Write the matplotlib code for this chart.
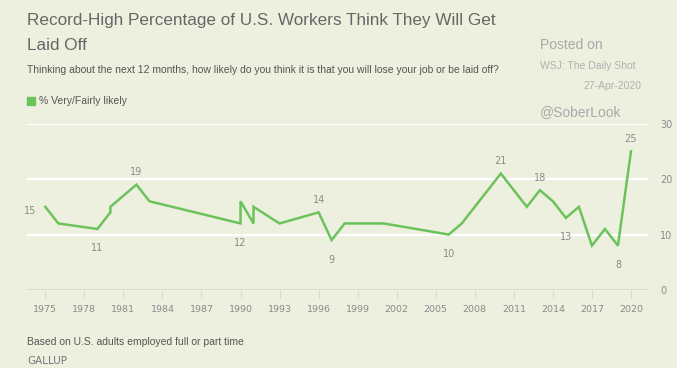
import matplotlib
matplotlib.use("Agg")
import matplotlib.pyplot as plt
from matplotlib.patches import Rectangle

# Gallup series: % very/fairly likely to lose job (repeat years = two surveys)
years = [1975, 1976, 1979, 1980, 1980, 1982, 1983, 1990, 1990, 1991, 1991,
         1993, 1996, 1997, 1998, 2001, 2006, 2007, 2008, 2010, 2012, 2013,
         2014, 2015, 2016, 2017, 2018, 2019, 2020]
likely = [15, 12, 11, 14, 15, 19, 16, 12, 16, 12, 15,
          12, 14, 9, 12, 12, 10, 12, 15, 21, 15, 18,
          16, 13, 15, 8, 11, 8, 25]

# labelled points: (year, value, dx, dy in points)
labels = [(1975, 15, -11, -3), (1979, 11, 0, -14), (1982, 19, 0, 9),
          (1990, 12, 0, -14), (1996, 14, 0, 9), (1997, 9, 0, -14),
          (2006, 10, 0, -14), (2010, 21, 0, 9), (2013, 18, 0, 9),
          (2015, 13, 0, -14), (2019, 8, 0, -14), (2020, 25, 0, 9)]

xticks = list(range(1975, 2021, 3))
yticks = [0, 10, 20, 30]

bg = "#eef0df"
green = "#6cc35c"
grey = "#8a8a8a"

fig = plt.figure(figsize=(6.77, 3.68), dpi=100, facecolor=bg)
ax = fig.add_axes([0.040, 0.212, 0.917, 0.452], facecolor=bg)

for y in yticks[1:]:
    ax.axhline(y, color="white", lw=1.6, zorder=1)
ax.axhline(0, color="#d8dacb", lw=2.2, zorder=1)

ax.plot(years, likely, color=green, lw=1.8, zorder=3, solid_joinstyle="miter")

for yr, v, dx, dy in labels:
    ax.annotate(str(v), (yr, v), xytext=(dx, dy), textcoords="offset points",
                ha="center", va="center", fontsize=7, color=grey)

ax.set_xlim(1973.6, 2021.3)
ax.set_ylim(0, 30)
ax.set_xticks(xticks)
ax.set_xticklabels([str(t) for t in xticks], fontsize=6.8, color=grey)
ax.tick_params(axis="x", length=6, width=0.8, color="#d8dacb", pad=5, direction="out")
ax.yaxis.tick_right()
ax.set_yticks(yticks)
ax.set_yticklabels([str(t) for t in yticks], fontsize=7, color=grey)
ax.tick_params(axis="y", length=0, pad=9)
for s in ax.spines.values():
    s.set_visible(False)

narrow = ["Liberation Sans Narrow", "Liberation Sans", "DejaVu Sans"]
fig.text(27 / 677, 1 - 20 / 368,
         "Record-High Percentage of U.S. Workers Think They Will Get",
         fontsize=12.3, color="#666666", family=narrow, va="center")
fig.text(27 / 677, 1 - 45 / 368, "Laid Off", fontsize=12.3, color="#666666",
         family=narrow, va="center")
fig.text(27 / 677, 1 - 70 / 368,
         "Thinking about the next 12 months, how likely do you think it is "
         "that you will lose your job or be laid off?",
         fontsize=7.5, color="#555555", family=narrow, va="center")

fig.patches.append(Rectangle((27 / 677, 1 - 105 / 368), 8 / 677, 8 / 368,
                             transform=fig.transFigure, color=green))
fig.text(39 / 677, 1 - 101 / 368, "% Very/Fairly likely", fontsize=7.5,
         color="#555555", family=narrow, va="center")

fig.text(540 / 677, 1 - 45 / 368, "Posted on", fontsize=10, color="#a8a8a8",
         family=narrow, va="center")
fig.text(540 / 677, 1 - 66 / 368, "WSJ: The Daily Shot", fontsize=7.5,
         color="#b0b0b0", family=narrow, va="center")
fig.text(641 / 677, 1 - 86 / 368, "27-Apr-2020", fontsize=7.5,
         color="#b0b0b0", family=narrow, va="center", ha="right")
fig.text(540 / 677, 1 - 112 / 368, "@SoberLook", fontsize=10,
         color="#a8a8a8", family=narrow, va="center")

fig.text(27 / 677, 1 - 342 / 368, "Based on U.S. adults employed full or part time",
         fontsize=7.5, color="#555555", family=narrow, va="center")
fig.text(27 / 677, 1 - 361 / 368, "GALLUP", fontsize=7.5, color="#777777",
         va="center")

fig.savefig("out.png", dpi=100, facecolor=bg)
